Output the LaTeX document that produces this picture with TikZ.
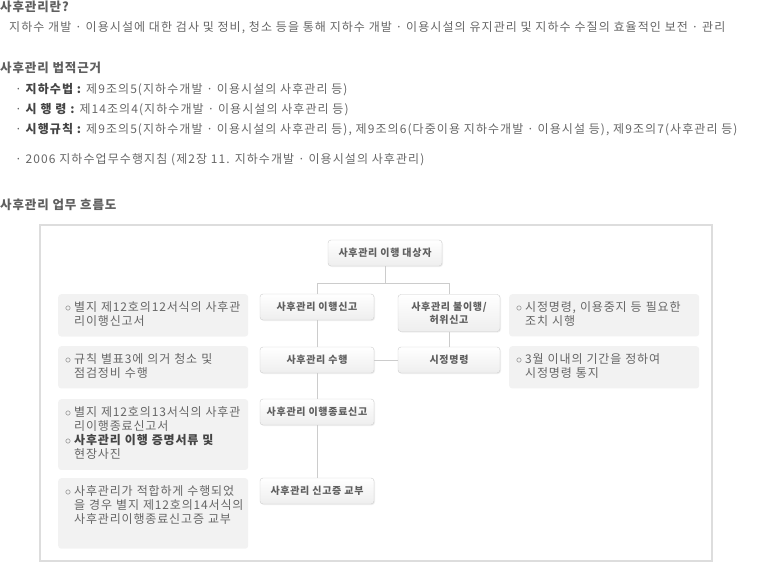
\documentclass[tikz,border=0pt]{standalone}
\usepackage{fontspec}
\setmainfont{Noto Sans CJK KR}
\newfontfamily\widekr{Noto Sans CJK KR}[LetterSpace=7]
\newfontfamily\widerkr{Noto Sans CJK KR}[LetterSpace=9]
\usetikzlibrary{positioning,shadows}

\definecolor{headgray}{HTML}{5F5F5F}
\definecolor{bodygray}{HTML}{666666}
\definecolor{darkgray}{HTML}{444444}
\definecolor{boxline}{HTML}{CCCCCC}
\definecolor{boxbot}{HTML}{EEEEEE}
\definecolor{notefill}{HTML}{F2F2F2}
\definecolor{framegray}{HTML}{DDDDDD}

\newcommand{\nb}{$\circ$}

\begin{document}
\begin{tikzpicture}[x=1pt,y=-1pt,
    head/.style={anchor=west,inner sep=0pt,font=\widekr\fontsize{12.5}{14}\selectfont\bfseries,text=headgray},
    body/.style={anchor=west,inner sep=0pt,font=\widerkr\fontsize{12}{14}\selectfont,text=bodygray},
    flowbox/.style={draw=boxline,rounded corners=3pt,top color=white,bottom color=boxbot,
        minimum width=114pt,minimum height=26pt,inner sep=2pt,align=center,
        font=\widekr\fontsize{10}{13}\selectfont\bfseries,text=headgray,
        drop shadow={opacity=0.12,shadow xshift=1pt,shadow yshift=-1pt}},
    notebox/.style={fill=notefill,rounded corners=3pt,anchor=north west,
        text width=176pt,inner xsep=7pt,inner ysep=7pt,align=left,
        font=\widekr\fontsize{12}{14}\selectfont,text=bodygray},
    conn/.style={draw=boxline,line width=0.8pt}]
    \useasboundingbox (0,0) rectangle (758,586);

    % top text
    \node[head] (whatis) at (0,7) {사후관리란?};
    \node[body] (define) at (9,28) {지하수 개발 · 이용시설에 대한 검사 및 정비, 청소 등을 통해 지하수 개발 · 이용시설의 유지관리 및 지하수 수질의 효율적인 보전 · 관리};
    \node[head] (legal) at (0,68) {사후관리 법적근거};
    \node[body] (law1) at (15,90) {· \textcolor{darkgray}{\bfseries 지하수법 :} 제9조의5(지하수개발 · 이용시설의 사후관리 등)};
    \node[body] (law2) at (15,110) {· \textcolor{darkgray}{\bfseries 시 행 령 :} 제14조의4(지하수개발 · 이용시설의 사후관리 등)};
    \node[body] (law3) at (15,130) {· \textcolor{darkgray}{\bfseries 시행규칙 :} 제9조의5(지하수개발 · 이용시설의 사후관리 등), 제9조의6(다중이용 지하수개발 · 이용시설 등), 제9조의7(사후관리 등)};
    \node[body] (law4) at (15,160) {· 2006 지하수업무수행지침 (제2장 11. 지하수개발 · 이용시설의 사후관리)};
    \node[head] (flow) at (0,205) {사후관리 업무 흐름도};

    % frame
    \draw[framegray,line width=1.2pt] (40,225) rectangle (712,561);

    % flow boxes
    \node[flowbox] (target) at (385,253) {사후관리 이행 대상자};
    \node[flowbox] (report) at (317,307) {사후관리 이행신고};
    \node[flowbox,minimum width=102pt,minimum height=37pt] (fail) at (449,313) {사후관리 불이행/\\허위신고};
    \node[flowbox] (perform) at (317,360) {사후관리 수행};
    \node[flowbox,minimum width=102pt] (order) at (449,360) {시정명령};
    \node[flowbox] (endrep) at (317,412) {사후관리 이행종료신고};
    \node[flowbox] (cert) at (317,491) {사후관리 신고증 교부};

    % notes
    \node[notebox] (note1) at (58,294) {\begin{tabular}{@{}l@{\hspace{3pt}}l@{}}
        \nb & 별지 제12호의12서식의 사후관\\ & 리이행신고서\end{tabular}};
    \node[notebox] (note2) at (58,346) {\begin{tabular}{@{}l@{\hspace{3pt}}l@{}}
        \nb & 규칙 별표3에 의거 청소 및\\ & 점검정비 수행\end{tabular}};
    \node[notebox] (note3) at (58,399) {\begin{tabular}{@{}l@{\hspace{3pt}}l@{}}
        \nb & 별지 제12호의13서식의 사후관\\ & 리이행종료신고서\\
        \nb & \textcolor{darkgray}{\bfseries 사후관리 이행 증명서류 및}\\ & 현장사진\end{tabular}};
    \node[notebox] (note4) at (58,478) {\begin{tabular}{@{}l@{\hspace{3pt}}l@{}}
        \nb & 사후관리가 적합하게 수행되었\\ & 을 경우 별지 제12호의14서식의\\
        & 사후관리이행종료신고증 교부\\ & ~\end{tabular}};
    \node[notebox] (note5) at (509,294) {\begin{tabular}{@{}l@{\hspace{3pt}}l@{}}
        \nb & 시정명령, 이용중지 등 필요한\\ & 조치 시행\end{tabular}};
    \node[notebox] (note6) at (509,346) {\begin{tabular}{@{}l@{\hspace{3pt}}l@{}}
        \nb & 3월 이내의 기간을 정하여\\ & 시정명령 통지\end{tabular}};

    % connectors
    \coordinate (fork) at (385,283);
    \draw[conn] (target) -- (fork);
    \draw[conn] (fork) -| (report);
    \draw[conn] (fork) -| (fail);
    \draw[conn] (report) -- (perform);
    \draw[conn] (perform) -- (endrep);
    \draw[conn] (endrep) -- (cert);
    \draw[conn] (perform) -- (order);
    \draw[conn] (fail) -- (order);
\end{tikzpicture}
\end{document}
